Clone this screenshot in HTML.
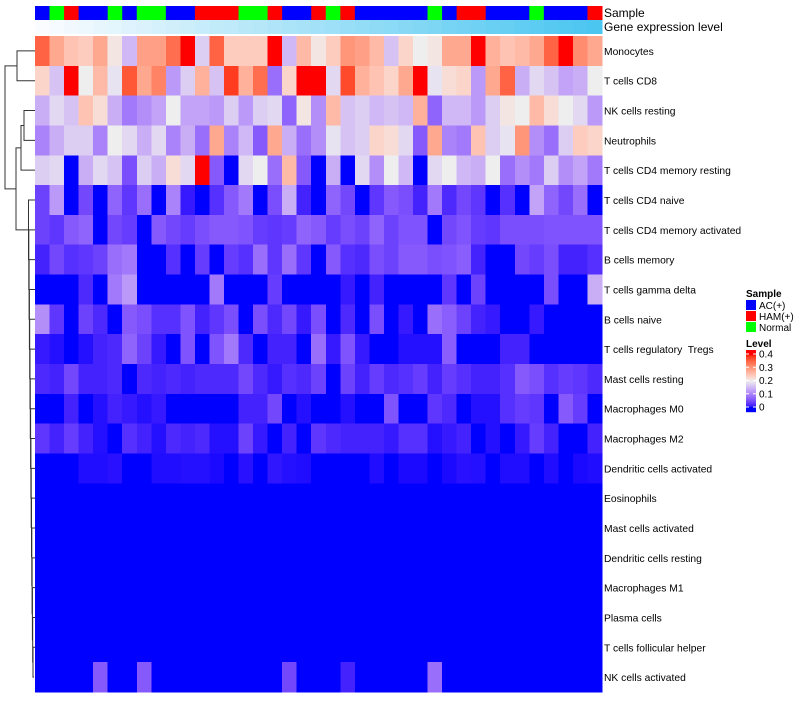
<!DOCTYPE html>
<html><head><meta charset="utf-8"><style>
body{margin:0;background:#fff;width:800px;height:700px;overflow:hidden;font-family:"Liberation Sans",sans-serif}
svg text{font-family:"Liberation Sans",sans-serif}
</style></head><body>
<svg id="chart" width="800" height="700" xmlns="http://www.w3.org/2000/svg"></svg>
<script>
const rowLabels=["Monocytes","T cells CD8","NK cells resting","Neutrophils","T cells CD4 memory resting","T cells CD4 naive","T cells CD4 memory activated","B cells memory","T cells gamma delta","B cells naive","T cells regulatory  Tregs","Mast cells resting","Macrophages M0","Macrophages M2","Dendritic cells activated","Eosinophils","Mast cells activated","Dendritic cells resting","Macrophages M1","Plasma cells","T cells follicular helper","NK cells activated"];
const sampleGroups=["A","N","H","A","A","N","A","N","N","A","A","H","H","H","N","N","H","A","A","H","N","H","A","A","A","A","A","N","A","H","H","A","A","A","N","A","A","A","H"];
const r0=[.35,.28,.25,.24,.28,.21,.15,.29,.29,.34,.4,.17,.35,.24,.24,.24,.4,.15,.26,.21,.24,.3,.29,.26,.16,.23,.2,.21,.28,.28,.4,.27,.25,.26,.28,.35,.4,.31,.28];
const r1=[.23,.16,.4,.2,.26,.19,.36,.28,.32,.12,.17,.27,.16,.38,.27,.34,.08,.23,.4,.4,.18,.37,.27,.25,.23,.28,.4,.19,.22,.23,.12,.28,.35,.14,.18,.16,.13,.14,.2];
const r2=[.14,.18,.16,.25,.22,.14,.09,.11,.13,.2,.13,.13,.12,.17,.12,.17,.18,.07,.21,.11,.26,.16,.17,.15,.16,.15,.27,.07,.15,.15,.12,.17,.21,.2,.26,.22,.2,.18,.12];
const r3=[.1,.14,.17,.17,.1,.2,.18,.14,.18,.1,.14,.08,.28,.1,.15,.06,.28,.14,.08,.11,.19,.16,.17,.23,.22,.18,.06,.28,.1,.09,.25,.17,.19,.3,.11,.08,.17,.24,.23];
const r4=[.17,.18,0,.14,.18,.16,.05,.17,.14,.22,.18,.4,.06,0,.18,.2,.08,.26,.06,0,.14,0,.18,.11,.2,.15,0,.18,.2,.15,.14,.2,.08,.11,.09,.17,.11,.13,.09];
const r5=[.04,.12,0,.045,0,.07,.03,.08,0,.1,.01,0,.025,.06,.09,0,.05,.14,.015,0,.07,.045,0,.03,.06,.05,.015,.09,.02,.045,.03,0,.025,0,.13,.07,.045,.08,0];
const r6=[.04,.03,.06,.07,0,.045,.035,0,.06,.045,.035,.05,.06,.06,.055,.035,.03,.035,.07,.06,.035,.05,.04,.07,.04,.055,.055,0,.045,.055,.035,.03,.05,.05,.05,.055,.055,.055,.055];
const r7=[.015,.045,.025,.03,.04,.08,.09,0,0,.025,0,.035,0,.035,.025,.08,.03,.08,.03,0,.06,.025,.02,.05,.04,.06,.06,.05,.055,.065,.015,0,0,.045,.035,.05,.015,.015,.025];
const r8=[0,0,0,.02,0,.09,.12,0,0,0,0,0,.09,0,0,0,.035,0,0,0,0,.01,0,.015,0,0,0,0,.03,0,.04,0,0,0,0,.05,0,0,.14];
const r9=[.11,.03,0,.04,.02,0,.06,.05,.025,.025,.055,.015,.03,.05,0,.05,.02,.045,.01,.05,0,.02,0,.05,0,.01,0,.08,.065,.04,.015,.01,0,0,.01,0,0,0,0];
const r10=[.01,.005,0,.005,.015,.02,.07,.04,.01,0,.055,0,.055,.09,.02,0,.015,.015,0,.08,.01,.055,.01,0,0,.005,.005,.005,.065,0,0,0,.015,.015,0,0,0,0,0];
const r11=[.02,.015,.045,.015,.015,.02,0,.02,.015,.02,.015,.02,.02,.02,.045,.02,.01,.025,.02,.04,0,.04,.015,.035,.02,.025,.035,.015,.035,.025,.015,.015,.025,.06,.05,.025,.035,.03,.02];
const r12=[0,0,.015,0,.005,.015,.01,.005,.01,0,0,0,0,0,.015,.015,.045,0,.005,0,0,.005,0,0,.055,0,0,.03,.02,0,.005,.005,.025,.035,.03,0,.06,.035,0];
const r13=[.03,.015,.035,.015,.005,0,.025,.015,.005,.02,.015,.02,.005,.005,.04,.01,0,.015,0,.03,.02,.015,.015,.015,.01,.025,.025,.005,.01,.015,0,.005,0,.01,.035,.015,0,0,.015];
const r14=[0,0,0,.004,.004,.006,0,0,.004,.004,.005,.005,.003,0,.006,0,.008,.005,.004,0,0,0,0,.004,0,.003,.003,0,.003,.006,.005,0,.004,.004,0,.004,0,.003,.004];
const r15=Array(39).fill(0),r16=Array(39).fill(0),r17=Array(39).fill(0),r18=Array(39).fill(0),r19=Array(39).fill(0),r20=Array(39).fill(0);
const r21=[0,0,0,0,.06,0,0,.06,0,0,0,0,0,0,0,0,0,.045,0,0,0,.015,0,0,0,0,0,.08,0,0,0,0,0,0,0,0,0,0,0];
const values=[r0,r1,r2,r3,r4,r5,r6,r7,r8,r9,r10,r11,r12,r13,r14,r15,r16,r17,r18,r19,r20,r21];
const legendTicks=[0.4,0.3,0.2,0.1,0];

const NS="http://www.w3.org/2000/svg",svg=document.getElementById('chart');
function mk(t,a,p){const e=document.createElementNS(NS,t);for(const k in a)e.setAttribute(k,a[k]);(p||svg).appendChild(e);return e;}
const X0=35,X1=602,Y0=36,Y1=692;
const nC=sampleGroups.length,nR=rowLabels.length;
const cw=(X1-X0)/nC,rh=(Y1-Y0)/nR;
const xPos=i=>X0+i*cw, yPos=j=>Y0+j*rh;
function s2l(c){c/=255;return c<=0.04045?c/12.92:Math.pow((c+0.055)/1.055,2.4);}
function l2s(c){c=c<=0.0031308?12.92*c:1.055*Math.pow(c,1/2.4)-0.055;return Math.max(0,Math.min(255,Math.round(c*255)));}
function toLab(r,g,b){r=s2l(r);g=s2l(g);b=s2l(b);let x=(r*.4124+g*.3576+b*.1805)/.95047,y=r*.2126+g*.7152+b*.0722,z=(r*.0193+g*.1192+b*.9505)/1.08883;const f=t=>t>0.008856?Math.cbrt(t):7.787*t+16/116;x=f(x);y=f(y);z=f(z);return[116*y-16,500*(x-y),200*(y-z)];}
function fromLab(L,a,bb){let y=(L+16)/116,x=a/500+y,z=y-bb/200;const f=t=>t*t*t>0.008856?t*t*t:(t-16/116)/7.787;x=f(x)*.95047;y=f(y);z=f(z)*1.08883;const r=x*3.2406+y*-1.5372+z*-.4986,g=x*-.9689+y*1.8758+z*.0415,b=x*.0557+y*-.2040+z*1.0570;return`rgb(${l2s(r)},${l2s(g)},${l2s(b)})`;}
const cBlue=toLab(0,0,255),cMid=toLab(238,238,238),cRed=toLab(255,0,0);
function col(v){v=Math.max(0,Math.min(0.4,v));let a,b,t;if(v<=0.2){a=cBlue;b=cMid;t=v/0.2}else{a=cMid;b=cRed;t=(v-0.2)/0.2}return fromLab(a[0]+(b[0]-a[0])*t,a[1]+(b[1]-a[1])*t,a[2]+(b[2]-a[2])*t);}
const gCol={A:"#0000FF",H:"#FF0000",N:"#00FF00"};
const gAnn=mk('g',{});
sampleGroups.forEach((g,i)=>{const r=mk('rect',{x:xPos(i),y:6,width:cw+0.5,height:14,fill:gCol[g]},gAnn);});
const gExp=mk('g',{});
for(let i=0;i<nC;i++){const t=i/(nC-1);const c=`rgb(${Math.round(250-t*(250-74))},${Math.round(252-t*(252-198))},${Math.round(255-t*(255-240))})`;const r=mk('rect',{x:xPos(i),y:20,width:cw+0.5,height:14,fill:c},gExp);}
let t=mk('text',{x:604,y:17,'font-size':12});t.textContent='Sample';
t=mk('text',{x:604,y:31,'font-size':12});t.textContent='Gene expression level';
const gH=mk('g',{'shape-rendering':'crispEdges'});
values.forEach((row,j)=>row.forEach((v,i)=>{const r=mk('rect',{x:xPos(i),y:yPos(j),width:cw+0.5,height:rh+0.5,fill:col(v)},gH);}));
rowLabels.forEach((l,j)=>{const e=mk('text',{x:604,y:yPos(j)+rh/2+4,'font-size':10.3});e.textContent=l;e.setAttribute('xml:space','preserve');e.style.whiteSpace='pre';});
const yc=j=>yPos(j)+rh/2;
const gD=mk('g',{stroke:'#333','stroke-width':1,fill:'none'});
function link(x,ya,yb,xa,xb){mk('path',{d:`M${xa},${ya}H${x}V${yb}H${xb}`},gD);}
link(17,yc(0),yc(1),35,35);
link(24,yc(2),yc(3),35,35);
const m23=(yc(2)+yc(3))/2;link(21,m23,yc(4),24,35);
const m24=(m23+yc(4))/2;
let prevY=yc(21),prevX=34;
for(let j=20;j>=5;j--){const x=Math.max(28,33-(20-j)*0.3);link(x,yc(j),prevY,35,prevX);prevY=(yc(j)+prevY)/2;prevX=x;}
link(16,m24,prevY,21,prevX);
const mRest=(m24+prevY)/2;
link(5,(yc(0)+yc(1))/2,mRest,17,16);
const gL=mk('g',{});
t=mk('text',{x:746,y:297,'font-size':10,'font-weight':'bold'},gL);t.textContent='Sample';
[["AC(+)","#0000FF"],["HAM(+)","#FF0000"],["Normal","#00FF00"]].forEach((d,k)=>{const r=mk('rect',{x:746,y:300+k*11,width:10,height:10,fill:d[1]},gL);const e=mk('text',{x:759,y:309+k*11,'font-size':10},gL);e.textContent=d[0];});
t=mk('text',{x:746,y:347,'font-size':10,'font-weight':'bold'},gL);t.textContent='Level';
const gY0=350,gY1=411,tY0=354,tY1=407;
for(let k=0;k<=gY1-gY0;k++){const y=gY0+k;const v=0.4*(tY1-y)/(tY1-tY0);mk('rect',{x:746,y:y,width:10,height:1.2,fill:col(v)},gL);}
legendTicks.forEach(v=>{const y=tY1-(v/0.4)*(tY1-tY0);mk('line',{x1:746,x2:749,y1:y,y2:y,stroke:'#fff'},gL);mk('line',{x1:753,x2:756,y1:y,y2:y,stroke:'#fff'},gL);const e=mk('text',{x:759,y:y+3.5,'font-size':10},gL);e.textContent=v===0?'0':String(v);});
</script>
</body></html>
